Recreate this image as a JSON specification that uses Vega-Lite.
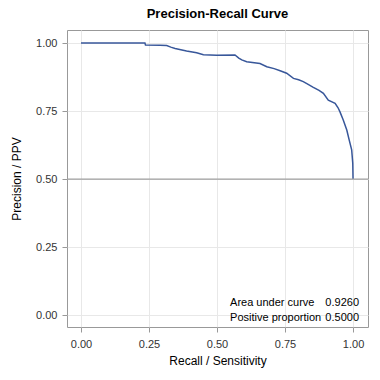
{
  "$schema": "https://vega.github.io/schema/vega-lite/v6.json",
  "width": 301,
  "height": 297,
  "autosize": "none",
  "padding": {"left": 67, "top": 30, "right": 12, "bottom": 53},
  "background": "white",
  "title": {"text": "Precision-Recall Curve", "font": "Liberation Sans", "fontSize": 13, "fontWeight": "bold", "color": "#000", "anchor": "middle", "offset": 9},
  "config": {
    "view": {"stroke": "#999999", "strokeWidth": 1},
    "axis": {"labelFont": "Liberation Sans", "titleFont": "Liberation Sans", "labelFontSize": 11, "titleFontSize": 12, "titleFontWeight": "normal", "labelColor": "#333", "titleColor": "#000", "tickColor": "#999", "tickSize": 5, "gridColor": "#e8e8e8", "domain": false}
  },
  "datasets": {
    "curve": [
      {"k": 1, "recall": 0.0, "precision": 1.0},
      {"k": 2, "recall": 0.235, "precision": 1.0},
      {"k": 3, "recall": 0.237, "precision": 0.993},
      {"k": 4, "recall": 0.29, "precision": 0.992},
      {"k": 5, "recall": 0.315, "precision": 0.991},
      {"k": 6, "recall": 0.33, "precision": 0.985},
      {"k": 7, "recall": 0.346, "precision": 0.98},
      {"k": 8, "recall": 0.388, "precision": 0.971},
      {"k": 9, "recall": 0.425, "precision": 0.964},
      {"k": 10, "recall": 0.45, "precision": 0.957},
      {"k": 11, "recall": 0.499, "precision": 0.955},
      {"k": 12, "recall": 0.566, "precision": 0.956},
      {"k": 13, "recall": 0.58, "precision": 0.945},
      {"k": 14, "recall": 0.591, "precision": 0.938},
      {"k": 15, "recall": 0.609, "precision": 0.931},
      {"k": 16, "recall": 0.658, "precision": 0.925},
      {"k": 17, "recall": 0.683, "precision": 0.913},
      {"k": 18, "recall": 0.71, "precision": 0.906},
      {"k": 19, "recall": 0.732, "precision": 0.898},
      {"k": 20, "recall": 0.756, "precision": 0.889},
      {"k": 21, "recall": 0.781, "precision": 0.87},
      {"k": 22, "recall": 0.8, "precision": 0.865},
      {"k": 23, "recall": 0.817, "precision": 0.858},
      {"k": 24, "recall": 0.835, "precision": 0.848},
      {"k": 25, "recall": 0.854, "precision": 0.837},
      {"k": 26, "recall": 0.875, "precision": 0.826},
      {"k": 27, "recall": 0.891, "precision": 0.815},
      {"k": 28, "recall": 0.909, "precision": 0.79},
      {"k": 29, "recall": 0.934, "precision": 0.778},
      {"k": 30, "recall": 0.945, "precision": 0.762},
      {"k": 31, "recall": 0.952, "precision": 0.747},
      {"k": 32, "recall": 0.964, "precision": 0.717},
      {"k": 33, "recall": 0.977, "precision": 0.68},
      {"k": 34, "recall": 0.986, "precision": 0.643},
      {"k": 35, "recall": 0.995, "precision": 0.607},
      {"k": 36, "recall": 0.999, "precision": 0.558},
      {"k": 37, "recall": 1.0, "precision": 0.5}
    ],
    "ref": [{"proportion": 0.5}],
    "stats": [
      {"label": "Area under curve", "value": "0.9260", "lx": 0.548, "vx": 1.022, "ly": 0.043},
      {"label": "Positive proportion", "value": "0.5000", "lx": 0.548, "vx": 1.022, "ly": -0.012}
    ]
  },
  "layer": [
    {
      "data": {"name": "curve"},
      "mark": {"type": "line", "color": "#38579a", "strokeWidth": 1.5, "clip": true},
      "encoding": {
        "x": {"field": "recall", "type": "quantitative",
          "scale": {"domain": [-0.0515, 1.055], "nice": false, "zero": false},
          "axis": {"title": "Recall / Sensitivity", "values": [0, 0.25, 0.5, 0.75, 1], "format": ".2f", "labelPadding": 6, "titlePadding": 6}},
        "y": {"field": "precision", "type": "quantitative",
          "scale": {"domain": [-0.044, 1.048], "nice": false, "zero": false},
          "axis": {"title": "Precision / PPV", "values": [0, 0.25, 0.5, 0.75, 1], "format": ".2f", "labelPadding": 5, "titlePadding": 12}},
        "order": {"field": "k", "type": "quantitative"}
      }
    },
    {
      "data": {"name": "ref"},
      "mark": {"type": "rule", "color": "#a0a0a0", "strokeWidth": 1.3},
      "encoding": {
        "y": {"field": "proportion", "type": "quantitative"}
      }
    },
    {
      "data": {"name": "stats"},
      "mark": {"type": "text", "align": "left", "baseline": "middle", "font": "Liberation Sans", "fontSize": 11, "color": "#000"},
      "encoding": {
        "x": {"field": "lx", "type": "quantitative"},
        "y": {"field": "ly", "type": "quantitative"},
        "text": {"field": "label"}
      }
    },
    {
      "data": {"name": "stats"},
      "mark": {"type": "text", "align": "right", "baseline": "middle", "font": "Liberation Sans", "fontSize": 11, "color": "#000"},
      "encoding": {
        "x": {"field": "vx", "type": "quantitative"},
        "y": {"field": "ly", "type": "quantitative"},
        "text": {"field": "value"}
      }
    }
  ]
}
